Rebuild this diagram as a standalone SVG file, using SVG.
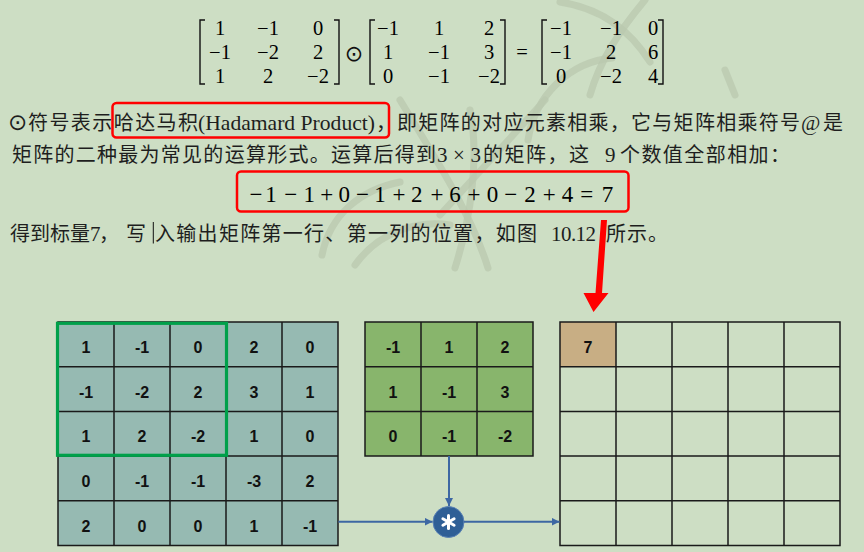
<svg xmlns="http://www.w3.org/2000/svg" width="864" height="552" viewBox="0 0 864 552">
<defs>
<style>
.cjk{font-family:"Noto Sans CJK SC","Liberation Serif",sans-serif;font-size:20px;fill:#1e1e1e}
.ser{font-family:"Liberation Serif","DejaVu Serif",serif;fill:#1e1e1e}
.mx{font-family:"Liberation Serif","DejaVu Serif",serif;font-size:20.5px;fill:#000;text-anchor:middle}
.sum{font-family:"Liberation Serif","DejaVu Serif",serif;font-size:23px;fill:#000;text-anchor:middle}
.br{fill:none;stroke:#111;stroke-width:1.4}
.cell{font-family:"Liberation Sans",Arial,sans-serif;font-weight:bold;font-size:16px;fill:#111;text-anchor:middle}
.grid{fill:none;stroke:#1a1a1a;stroke-width:1.5}
.redbox{fill:none;stroke:#ff0000;stroke-width:2.5}
.blue{stroke:#3d67a3;stroke-width:2;fill:none}
.wm{fill:none;stroke:#b9c8af;stroke-width:7;stroke-linecap:round;opacity:0.75}
</style>
<marker id="ah" viewBox="0 0 10 10" refX="10" refY="5" markerWidth="4" markerHeight="4" orient="auto" markerUnits="strokeWidth">
<path d="M0,0 L10,5 L0,10 z" fill="#3d67a3"/>
</marker>
</defs>
<rect width="864" height="552" fill="#cddec4"/>

<!-- watermark -->
<g id="watermark">
<path class="wm" d="M560 2 C600 8 630 30 650 62"/>
<path class="wm" d="M612 58 C570 62 535 95 528 140"/>
<path class="wm" d="M645 0 C620 30 600 60 590 95"/>
<path class="wm" d="M545 100 L440 215"/>
<path class="wm" d="M400 100 C430 150 470 210 488 268"/>
<path class="wm" d="M470 110 C480 160 470 220 455 268"/>
<path class="wm" d="M322 255 C330 215 360 190 400 182"/>
<path class="wm" d="M355 265 C380 230 420 220 450 225"/>
<path class="wm" d="M725 70 L735 95"/>
</g>

<!-- top equation -->
<g id="matrix-equation">
<path class="br" d="M205 20 H200 V84 H205"/>
<path class="br" d="M334 20 H339 V84 H334"/>
<text class="mx" x="220" y="35">1</text><text class="mx" x="268" y="35">−1</text><text class="mx" x="318" y="35">0</text>
<text class="mx" x="220" y="59">−1</text><text class="mx" x="268" y="59">−2</text><text class="mx" x="318" y="59">2</text>
<text class="mx" x="220" y="83">1</text><text class="mx" x="268" y="83">2</text><text class="mx" x="318" y="83">−2</text>
<text x="354" y="61" font-family="DejaVu Sans,sans-serif" font-size="22" text-anchor="middle" fill="#111">⊙</text>
<path class="br" d="M375 20 H370 V84 H375"/>
<path class="br" d="M500 20 H505 V84 H500"/>
<text class="mx" x="388" y="35">−1</text><text class="mx" x="439" y="35">1</text><text class="mx" x="489" y="35">2</text>
<text class="mx" x="388" y="59">1</text><text class="mx" x="439" y="59">−1</text><text class="mx" x="489" y="59">3</text>
<text class="mx" x="388" y="83">0</text><text class="mx" x="439" y="83">−1</text><text class="mx" x="489" y="83">−2</text>
<text class="mx" x="522" y="59">=</text>
<path class="br" d="M547 20 H542 V84 H547"/>
<path class="br" d="M658 20 H663 V84 H658"/>
<text class="mx" x="561" y="35">−1</text><text class="mx" x="611" y="35">−1</text><text class="mx" x="653" y="35">0</text>
<text class="mx" x="561" y="59">−1</text><text class="mx" x="611" y="59">2</text><text class="mx" x="653" y="59">6</text>
<text class="mx" x="561" y="83">0</text><text class="mx" x="611" y="83">−2</text><text class="mx" x="653" y="83">4</text>
</g>

<!-- paragraph text -->
<g id="paragraph">
<text x="8" y="130" font-family="DejaVu Sans,sans-serif" font-size="23" fill="#1e1e1e">⊙</text>
<text class="cjk" x="28" y="129.5" textLength="170" lengthAdjust="spacing">符号表示哈达马积</text>
<text class="ser" x="198" y="129.5" font-size="21" textLength="177" lengthAdjust="spacingAndGlyphs">(Hadamard Product)</text>
<text class="cjk" x="376" y="129.5">，</text>
<text class="cjk" x="397" y="129.5" textLength="403" lengthAdjust="spacing">即矩阵的对应元素相乘，它与矩阵相乘符号</text>
<text class="ser" x="801" y="129.5" font-size="21">@</text>
<text class="cjk" x="823" y="129.5">是</text>

<text class="cjk" x="12" y="161.5" textLength="424" lengthAdjust="spacing">矩阵的二种最为常见的运算形式。运算后得到</text>
<text class="ser" x="437" y="161.5" font-size="21" textLength="44" lengthAdjust="spacing">3 × 3</text>
<text class="cjk" x="483" y="161.5" textLength="106" lengthAdjust="spacing">的矩阵，这</text>
<text class="ser" x="605" y="161.5" font-size="21">9</text>
<text class="cjk" x="620" y="161.5" textLength="170" lengthAdjust="spacing">个数值全部相加：</text>

<text class="cjk" x="10" y="241" textLength="80" lengthAdjust="spacing">得到标量</text>
<text class="ser" x="90" y="241" font-size="21">7</text>
<text class="cjk" x="99" y="241">，</text>
<text class="cjk" x="126" y="241">写</text>
<line x1="153.3" y1="222" x2="153.3" y2="243.5" stroke="#111" stroke-width="1"/>
<text class="cjk" x="155" y="241" textLength="382" lengthAdjust="spacing">入输出矩阵第一行、第一列的位置，如图</text>
<text class="ser" x="551" y="241" font-size="21" textLength="45" lengthAdjust="spacing">10.12</text>
<text class="cjk" x="606" y="241" textLength="62" lengthAdjust="spacing">所示。</text>
</g>

<!-- sum equation -->
<g id="sum-equation">
<text class="sum" y="202" x="256 271 290.8 309.2 326.7 344.2 362.5 380 399 416.7 437 455 474 492.5 510.8 530 549.2 567.5 586.7 607.5">−1−1+0−1+2+6+0−2+4=7</text>
</g>

<!-- red highlights -->
<g id="highlights">
<rect class="redbox" x="112.5" y="103" width="276.5" height="34.5" rx="4"/>
<rect class="redbox" x="237" y="171.5" width="391.5" height="40" rx="4"/>
<polygon fill="#ff0000" points="601,220 607,220 602,293 608.5,293 593.5,312 583.5,293 595.5,293"/>
</g>

<!-- input matrix -->
<g id="input-matrix">
<rect x="58" y="322" width="280" height="223.5" fill="#96bab2"/>
<path class="grid" d="M58 322 H338 V545.5 H58 Z M114 322 V545.5 M170 322 V545.5 M226 322 V545.5 M282 322 V545.5 M58 366.7 H338 M58 411.4 H338 M58 456.1 H338 M58 500.8 H338"/>
<text class="cell" y="353"><tspan x="86">1</tspan><tspan x="142">-1</tspan><tspan x="198">0</tspan><tspan x="254">2</tspan><tspan x="310">0</tspan></text>
<text class="cell" y="397.7"><tspan x="86">-1</tspan><tspan x="142">-2</tspan><tspan x="198">2</tspan><tspan x="254">3</tspan><tspan x="310">1</tspan></text>
<text class="cell" y="442.4"><tspan x="86">1</tspan><tspan x="142">2</tspan><tspan x="198">-2</tspan><tspan x="254">1</tspan><tspan x="310">0</tspan></text>
<text class="cell" y="487.1"><tspan x="86">0</tspan><tspan x="142">-1</tspan><tspan x="198">-1</tspan><tspan x="254">-3</tspan><tspan x="310">2</tspan></text>
<text class="cell" y="531.8"><tspan x="86">2</tspan><tspan x="142">0</tspan><tspan x="198">0</tspan><tspan x="254">1</tspan><tspan x="310">-1</tspan></text>
<rect x="57.5" y="323.3" width="169" height="132" fill="none" stroke="#00a04a" stroke-width="3.2"/>
</g>

<!-- kernel -->
<g id="kernel">
<rect x="365" y="322" width="168" height="134" fill="#88b56c"/>
<path class="grid" d="M365 322 H533 V456 H365 Z M421 322 V456 M477 322 V456 M365 366.7 H533 M365 411.4 H533"/>
<text class="cell" y="353"><tspan x="393">-1</tspan><tspan x="449">1</tspan><tspan x="505">2</tspan></text>
<text class="cell" y="397.7"><tspan x="393">1</tspan><tspan x="449">-1</tspan><tspan x="505">3</tspan></text>
<text class="cell" y="442.4"><tspan x="393">0</tspan><tspan x="449">-1</tspan><tspan x="505">-2</tspan></text>
</g>

<!-- multiply operator -->
<g id="operator">
<circle cx="448.5" cy="522" r="15.5" fill="#2f5f96" stroke="#5a82b5" stroke-width="1"/>
<g stroke="#ffffff" stroke-width="3" stroke-linecap="round">
<line x1="448.5" y1="515.5" x2="448.5" y2="528.5"/>
<line x1="442.9" y1="518.8" x2="454.1" y2="525.2"/>
<line x1="442.9" y1="525.2" x2="454.1" y2="518.8"/>
</g>
</g>

<!-- output matrix -->
<g id="output-matrix">
<rect x="560" y="322" width="56" height="44.7" fill="#c8ae84"/>
<path class="grid" d="M560 322 H840 V545.5 H560 Z M616 322 V545.5 M672 322 V545.5 M728 322 V545.5 M784 322 V545.5 M560 366.7 H840 M560 411.4 H840 M560 456.1 H840 M560 500.8 H840"/>
<text class="cell" x="588" y="353">7</text>
</g>

<!-- connectors -->
<g id="connectors">
<line class="blue" x1="338.5" y1="521.7" x2="432.5" y2="521.7" marker-end="url(#ah)"/>
<line class="blue" x1="449" y1="456" x2="449" y2="506" marker-end="url(#ah)"/>
<line class="blue" x1="464" y1="521.7" x2="559.5" y2="521.7" marker-end="url(#ah)"/>
</g>
</svg>
